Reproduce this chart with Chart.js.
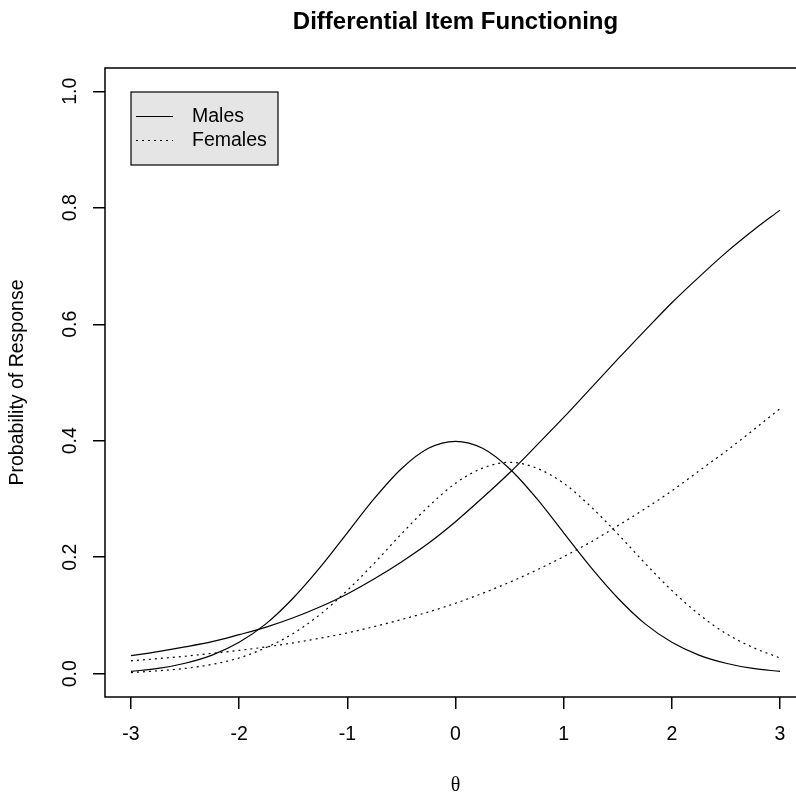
<!DOCTYPE html>
<html>
<head>
<title>Differential Item Functioning</title>
<script src="https://cdn.jsdelivr.net/npm/chart.js"></script>
<style>
 body { margin: 0; overflow: hidden; background: #fff; }
 #wrap { position: absolute; left: 0; top: 0; width: 820px; height: 797px; }
</style>
</head>
<body>
<div id="wrap"><canvas id="difChart" width="820" height="797"></canvas></div>
<script>
// theta grid and curves
const theta = [-3, -2.75, -2.5, -2.25, -2, -1.75, -1.5, -1.25, -1, -0.75, -0.5, -0.25, 0,
  0.25, 0.5, 0.75, 1, 1.25, 1.5, 1.75, 2, 2.25, 2.5, 2.75, 3];
const malesIcc = [0.031, 0.038, 0.046, 0.055, 0.067, 0.080, 0.096, 0.115, 0.137, 0.163, 0.192, 0.224, 0.261,
  0.302, 0.345, 0.392, 0.440, 0.490, 0.540, 0.589, 0.637, 0.681, 0.723, 0.761, 0.796];
const femalesIcc = [0.022, 0.026, 0.030, 0.035, 0.040, 0.046, 0.053, 0.061, 0.070, 0.081, 0.093, 0.106, 0.121,
  0.138, 0.157, 0.178, 0.201, 0.226, 0.254, 0.283, 0.314, 0.348, 0.382, 0.418, 0.455];
const malesDist = [0.004, 0.009, 0.018, 0.032, 0.054, 0.086, 0.130, 0.183, 0.242, 0.301, 0.352, 0.387, 0.399,
  0.387, 0.352, 0.301, 0.242, 0.183, 0.130, 0.086, 0.054, 0.032, 0.018, 0.009, 0.004];
const femalesDist = [0.002, 0.005, 0.009, 0.016, 0.027, 0.045, 0.069, 0.102, 0.143, 0.190, 0.240, 0.287, 0.327,
  0.353, 0.363, 0.353, 0.327, 0.287, 0.240, 0.190, 0.143, 0.102, 0.069, 0.045, 0.027];
const legendLabels = ['Males', 'Females'];

const FONT = 'Arial, "Liberation Sans", Helvetica, sans-serif';
const dotted = [2, 4];

function pts(ys) {
  return theta.map((t, i) => ({ x: t, y: ys[i] }));
}
function curve(ys, dash) {
  return {
    data: pts(ys),
    borderColor: '#000',
    borderWidth: 1.2,
    borderDash: dash,
    pointRadius: 0,
    cubicInterpolationMode: 'monotone',
    fill: false
  };
}

// box, rotated labels, titles and legend, R style
const rPlot = {
  id: 'rPlot',
  afterDraw(chart) {
    const ctx = chart.ctx;
    const a = chart.chartArea;
    const xs = chart.scales.x, ys = chart.scales.y;
    ctx.save();
    ctx.strokeStyle = '#000';
    ctx.lineWidth = 1.5;
    ctx.strokeRect(a.left, a.top, a.right - a.left, a.bottom - a.top);

    ctx.fillStyle = '#000';
    ctx.font = '19.5px ' + FONT;
    ctx.textAlign = 'center';
    ctx.textBaseline = 'middle';
    xs.ticks.forEach(t => {
      ctx.fillText(String(t.value), xs.getPixelForValue(t.value), 735);
    });
    ys.ticks.forEach(t => {
      ctx.save();
      ctx.translate(71, ys.getPixelForValue(t.value));
      ctx.rotate(-Math.PI / 2);
      ctx.fillText(t.value.toFixed(1), 0, 0);
      ctx.restore();
    });

    ctx.save();
    ctx.translate(18, (a.top + a.bottom) / 2);
    ctx.rotate(-Math.PI / 2);
    ctx.fillText('Probability of Response', 0, 0);
    ctx.restore();

    ctx.font = '20px "Liberation Serif", "Times New Roman", serif';
    ctx.fillText('\u03b8', (a.left + a.right) / 2, 786);

    ctx.font = 'bold 24px ' + FONT;
    ctx.fillText('Differential Item Functioning', (a.left + a.right) / 2, 22);

    // legend
    ctx.fillStyle = '#e5e5e5';
    ctx.fillRect(131, 92, 147, 73);
    ctx.lineWidth = 1.2;
    ctx.strokeRect(131, 92, 147, 73);
    [116.5, 140.5].forEach((y, i) => {
      ctx.setLineDash(i ? dotted : []);
      ctx.beginPath();
      ctx.moveTo(136, y);
      ctx.lineTo(173, y);
      ctx.stroke();
    });
    ctx.setLineDash([]);
    ctx.fillStyle = '#000';
    ctx.font = '19.5px ' + FONT;
    ctx.textAlign = 'left';
    ctx.fillText(legendLabels[0], 192, 117);
    ctx.fillText(legendLabels[1], 192, 141);
    ctx.restore();
  }
};

const chart = new Chart(document.getElementById('difChart'), {
  type: 'line',
  data: {
    datasets: [
      curve(malesIcc, []),
      curve(malesDist, []),
      curve(femalesIcc, dotted),
      curve(femalesDist, dotted)
    ]
  },
  options: {
    responsive: false,
    animation: false,
    layout: { padding: { left: 0, top: 68, right: 14, bottom: 0 } },
    plugins: { legend: { display: false }, tooltip: { enabled: false } },
    scales: {
      x: {
        type: 'linear',
        min: -3.24,
        max: 3.24,
        ticks: { stepSize: 1, includeBounds: false, display: false },
        grid: { drawOnChartArea: false, drawTicks: true, tickLength: 12, color: '#000', lineWidth: 1.5 },
        border: { display: false },
        afterFit(s) { s.height = 100; }
      },
      y: {
        min: -0.04,
        max: 1.04,
        ticks: { stepSize: 0.2, includeBounds: false, display: false },
        grid: { drawOnChartArea: false, drawTicks: true, tickLength: 12, color: '#000', lineWidth: 1.5 },
        border: { display: false },
        afterFit(s) { s.width = 105; }
      }
    }
  },
  plugins: [rPlot]
});
</script>
</body>
</html>
